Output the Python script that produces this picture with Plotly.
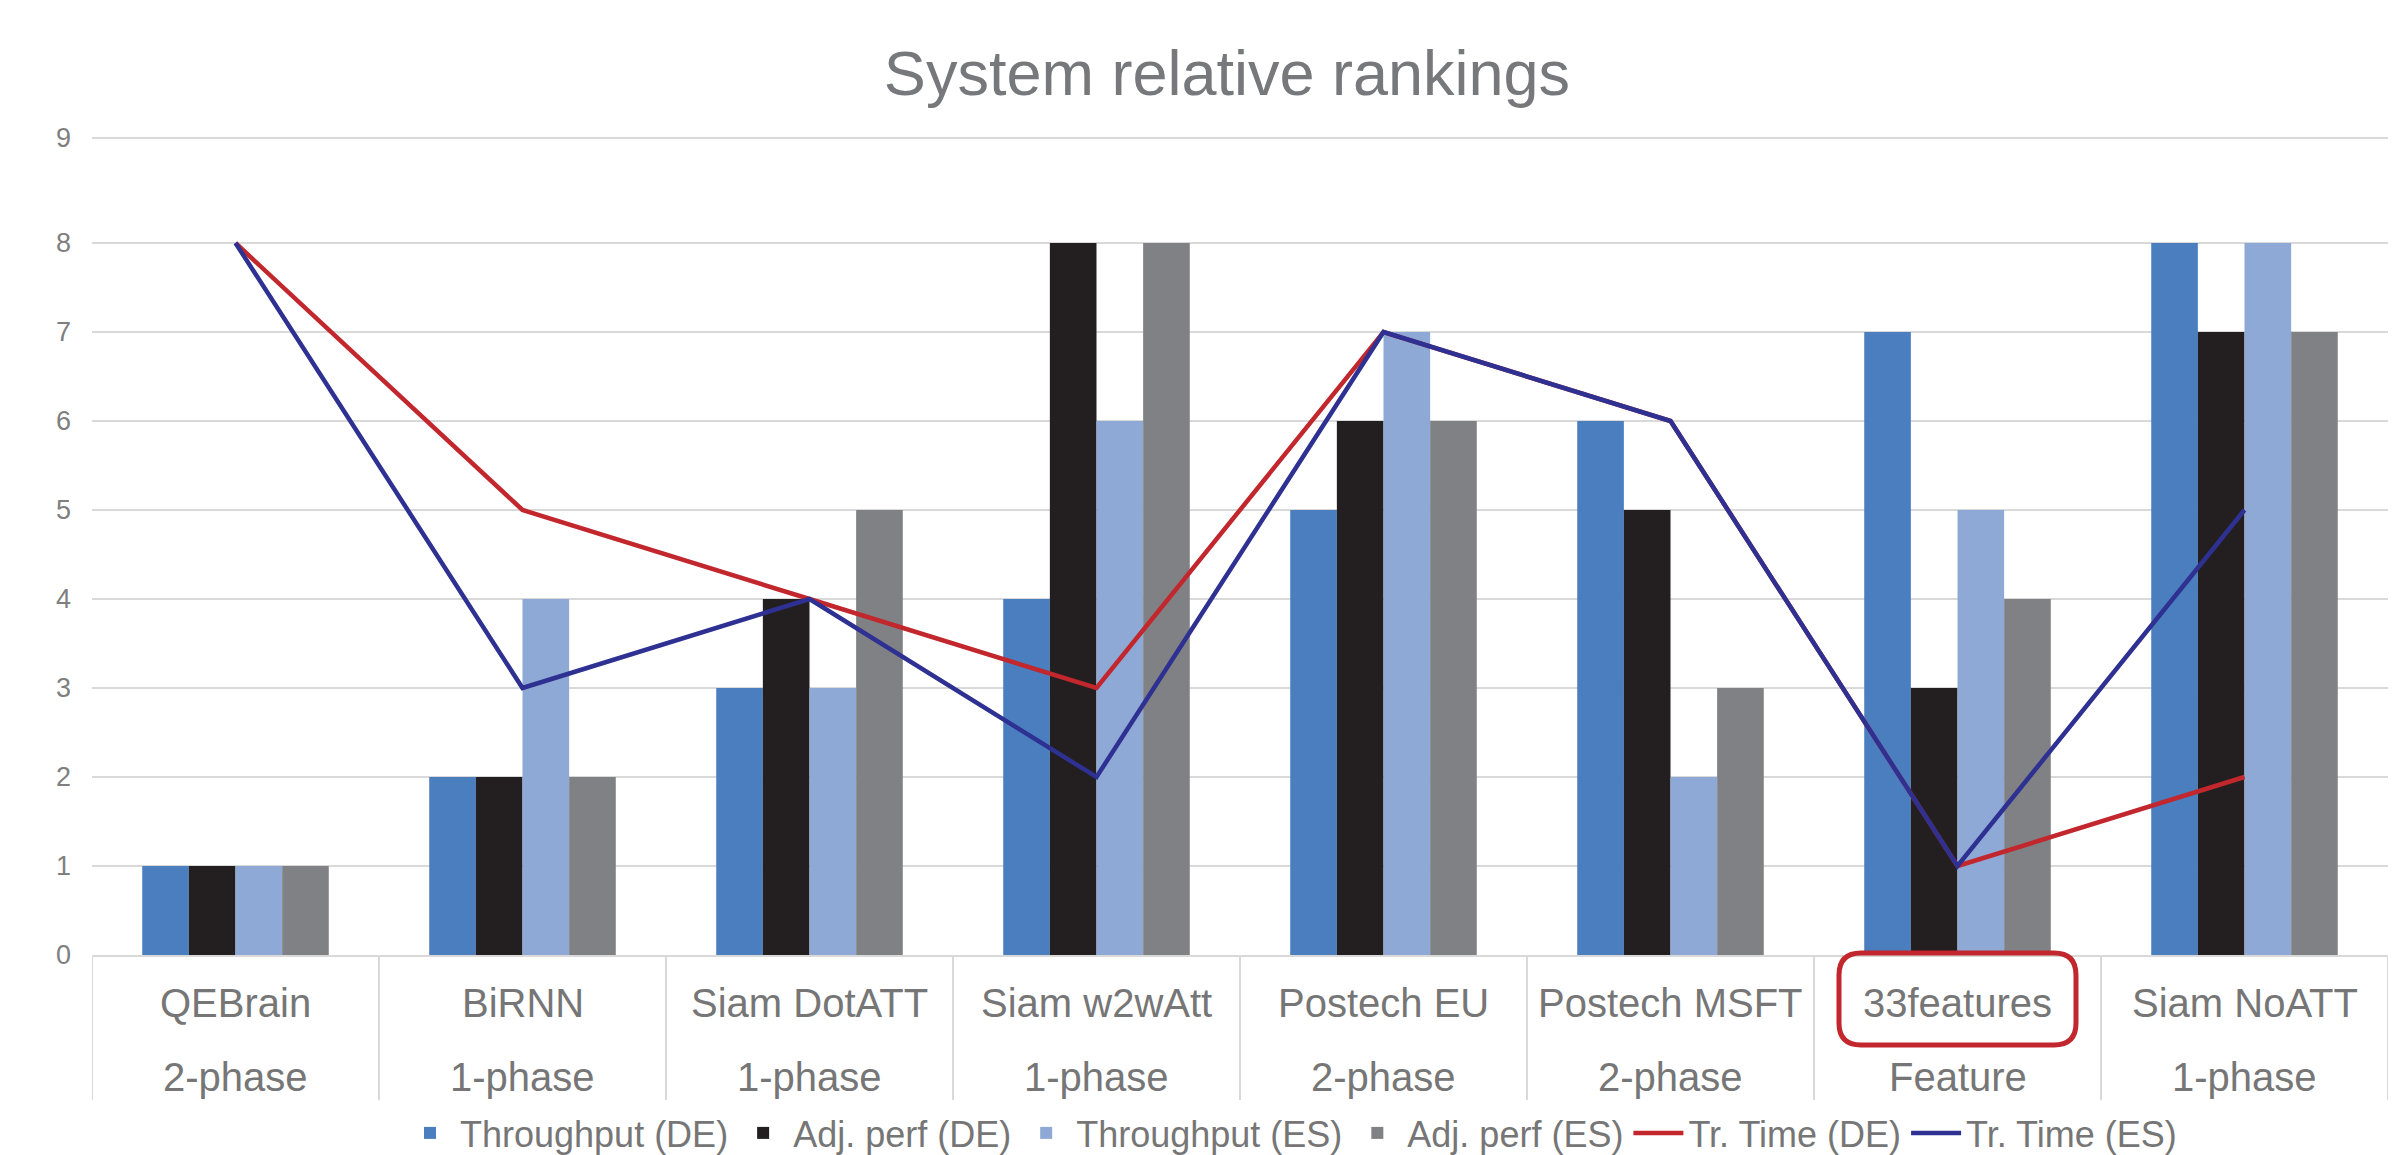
import plotly.graph_objects as go

systems = ["QEBrain", "BiRNN", "Siam DotATT", "Siam w2wAtt", "Postech EU",
           "Postech MSFT", "33features", "Siam NoATT"]
phases = ["2-phase", "1-phase", "1-phase", "1-phase", "2-phase",
          "2-phase", "Feature", "1-phase"]

throughput_de = [1, 2, 3, 4, 5, 6, 7, 8]
adj_perf_de = [1, 2, 4, 8, 6, 5, 3, 7]
throughput_es = [1, 4, 3, 6, 7, 2, 5, 8]
adj_perf_es = [1, 2, 5, 8, 6, 3, 4, 7]
tr_time_de = [8, 5, 4, 3, 7, 6, 1, 2]
tr_time_es = [8, 3, 4, 2, 7, 6, 1, 5]

y_ticks = [0, 1, 2, 3, 4, 5, 6, 7, 8, 9]

W, H = 2406, 1155
L, R, T, B = 92, 18, 136, 200
plot_h = H - T - B
plot_w = W - L - R
FONT = "Liberation Sans, Arial, sans-serif"
GRID = "#D9D9D9"
TXT = "#767676"

fig = go.Figure()
bar_specs = [
    ("Throughput (DE)", throughput_de, "#4A7EBF"),
    ("Adj. perf (DE)", adj_perf_de, "#231F20"),
    ("Throughput (ES)", throughput_es, "#8EA9D6"),
    ("Adj. perf (ES)", adj_perf_es, "#808184"),
]
for name, vals, col in bar_specs:
    fig.add_trace(go.Bar(x=systems, y=vals, name=name, marker_color=col,
                         marker_line_width=0))
fig.add_trace(go.Scatter(x=systems, y=tr_time_de, name="Tr. Time (DE)", mode="lines",
                         line=dict(color="#C1272D", width=4.5)))
fig.add_trace(go.Scatter(x=systems, y=tr_time_es, name="Tr. Time (ES)", mode="lines",
                         line=dict(color="#2E3192", width=4.5)))

# unit size in px for the 0..8 part; the top '9' gridline sits a bit higher in the reference
unit = 89.0
top_val = plot_h / unit
tick_pos = [v if v < 9 else 8 + 105.0 / unit for v in y_ticks]

shapes = []
for k in range(len(systems) + 1):
    shapes.append(dict(type="line", xref="x", yref="paper", x0=k - 0.5, x1=k - 0.5,
                       y0=0, y1=-(1100 - 955) / plot_h, line=dict(color=GRID, width=2)))

# rounded red box around 33features
ci = systems.index("33features")
hw = 118.5 / 287.0
x0, x1 = ci - hw, ci + hw
y1 = 2 / plot_h
y0 = -(1045 - 955) / plot_h
rx, ry = 22 / 287.0, 22 / plot_h
path = (f"M{x0+rx},{y1} L{x1-rx},{y1} Q{x1},{y1} {x1},{y1-ry} L{x1},{y0+ry} "
        f"Q{x1},{y0} {x1-rx},{y0} L{x0+rx},{y0} Q{x0},{y0} {x0},{y0+ry} "
        f"L{x0},{y1-ry} Q{x0},{y1} {x0+rx},{y1} Z")
shapes.append(dict(type="path", xref="x", yref="paper", path=path,
                   line=dict(color="#C1272D", width=5)))

annotations = []
for s, p in zip(systems, phases):
    annotations.append(dict(x=s, xref="x", y=-(1003 - 955) / plot_h, yref="paper",
                            text=s, showarrow=False, yanchor="middle",
                            font=dict(size=40, color=TXT, family=FONT)))
    annotations.append(dict(x=s, xref="x", y=-(1077 - 955) / plot_h, yref="paper",
                            text=p, showarrow=False, yanchor="middle",
                            font=dict(size=40, color=TXT, family=FONT)))

fig.update_layout(
    template="none",
    width=W, height=H,
    margin=dict(l=L, r=R, t=T, b=B, autoexpand=False),
    paper_bgcolor="white", plot_bgcolor="white",
    font=dict(family=FONT, color=TXT),
    title=dict(text="System relative rankings", x=(1227 - L) / plot_w,
               xref="paper", y=1 - 73 / H, yref="container", xanchor="center",
               yanchor="middle", font=dict(size=63, color="#77787B", family=FONT)),
    barmode="group", bargap=0.35, bargroupgap=0,
    xaxis=dict(type="category", showticklabels=False, showgrid=False, zeroline=False,
               showline=True, linecolor=GRID, linewidth=2, ticks="", automargin=False,
               range=[-0.5, len(systems) - 0.5]),
    yaxis=dict(range=[0, top_val], tickvals=tick_pos, ticktext=[str(v) for v in y_ticks],
               showgrid=True, gridcolor=GRID, gridwidth=2, zeroline=False,
               showline=False, ticks="", ticklabelstandoff=20, automargin=False,
               tickfont=dict(size=27, color="#7F7F7F", family=FONT)),
    legend=dict(orientation="h", x=(1291 - L) / plot_w, xanchor="center",
                y=-(1133 - 955) / plot_h, yanchor="middle",
                font=dict(size=36, color=TXT, family=FONT), itemwidth=50,
                tracegroupgap=0, bgcolor="rgba(0,0,0,0)"),
    shapes=shapes, annotations=annotations,
)

fig.write_html("out.html")
